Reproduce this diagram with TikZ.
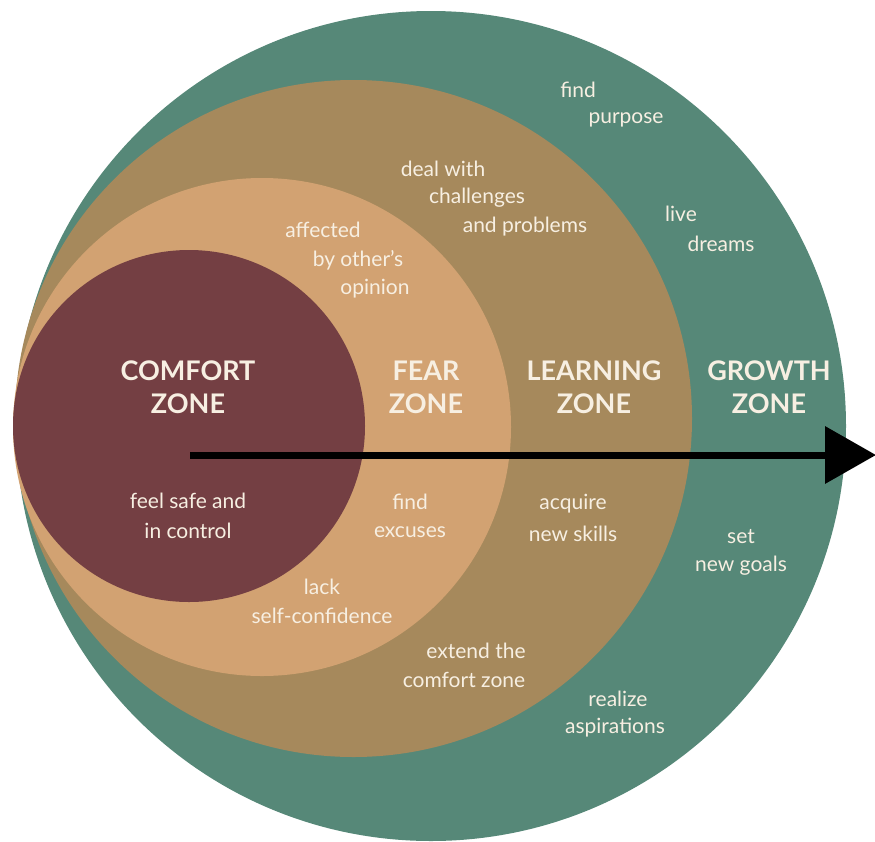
\documentclass[tikz,border=0pt]{standalone}
\usepackage{fontspec}
\setmainfont{Lato}
\usetikzlibrary{arrows.meta}
\definecolor{growthc}{HTML}{568878}
\definecolor{learnc}{HTML}{A6895C}
\definecolor{fearc}{HTML}{D2A272}
\definecolor{comfortc}{HTML}{743F43}
\definecolor{txtc}{HTML}{F7EFE2}
\begin{document}
\begin{tikzpicture}[x=1pt,y=-1pt,
  lbl/.style={text=txtc,font=\fontsize{21}{24}\selectfont,inner sep=0pt,anchor=center},
  title/.style={text=txtc,font=\fontsize{27}{30}\selectfont\bfseries,inner sep=0pt,anchor=center}]
\useasboundingbox (0,0) rectangle (875,841);
% zones
\fill[growthc] (431,426) circle (415);
\fill[learnc] (353.5,418.5) circle (338.5);
\fill[fearc] (262,427) circle (249);
\fill[comfortc] (189,426) circle (176);
% titles
\node[title] (t1a) at (188,371) {COMFORT};
\node[title] (t1b) at (188,404) {ZONE};
\node[title] (t2a) at (426,371) {FEAR};
\node[title] (t2b) at (426,404) {ZONE};
\node[title] (t3a) at (594,371) {LEARNING};
\node[title] (t3b) at (594,404) {ZONE};
\node[title] (t4a) at (769,371) {GROWTH};
\node[title] (t4b) at (769,404) {ZONE};
% labels
\node[lbl] (l1a) at (578,90) {find};
\node[lbl] (l1b) at (626,120) {purpose};
\node[lbl] (l2a) at (681,214) {live};
\node[lbl] (l2b) at (721,244) {dreams};
\node[lbl] (l3a) at (443,169) {deal with};
\node[lbl] (l3b) at (477,198) {challenges};
\node[lbl] (l3c) at (525,227) {and problems};
\node[lbl] (l4a) at (323,230) {affected};
\node[lbl] (l4b) at (358,260) {by other's};
\node[lbl] (l4c) at (375,289) {opinion};
\node[lbl] (l5a) at (188,501) {feel safe and};
\node[lbl] (l5b) at (188,531) {in control};
\node[lbl] (l6a) at (410,502) {find};
\node[lbl] (l6b) at (410,532) {excuses};
\node[lbl] (l7a) at (573,504) {acquire};
\node[lbl] (l7b) at (573,534) {new skills};
\node[lbl] (l8a) at (741,537) {set};
\node[lbl] (l8b) at (741,566) {new goals};
\node[lbl] (l9a) at (322,587) {lack};
\node[lbl] (l9b) at (322,616) {self-confidence};
\node[lbl] (l10a) at (476,651) {extend the};
\node[lbl] (l10b) at (464,680) {comfort zone};
\node[lbl] (l11a) at (618,699) {realize};
\node[lbl] (l11b) at (615,728) {aspirations};
% arrow
\coordinate (astart) at (190,455);
\coordinate (aend) at (876,455);
\draw[line width=7pt,-{Triangle[length=51pt,width=56pt]}] (astart) -- (aend);
\end{tikzpicture}
\end{document}
